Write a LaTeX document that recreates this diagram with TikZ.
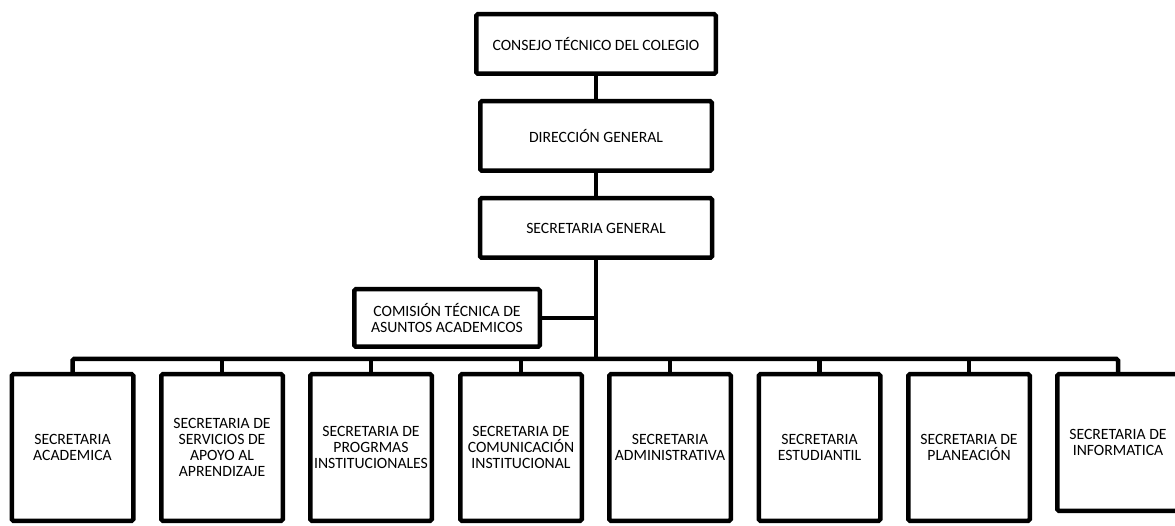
\documentclass[tikz,border=0pt]{standalone}
\usepackage{fontspec}
\setmainfont{Carlito}
\begin{document}
\begin{tikzpicture}[x=1pt,y=-1pt,
  box/.style={draw=black, line width=4.5pt, rounded corners=1.5pt, fill=white,
    align=center, inner sep=0pt, font=\fontsize{15.7}{15.7}\selectfont},
  topbox/.style={box, minimum width=231.5pt, minimum height=59.5pt},
  unit/.style={box, minimum width=121.5pt, minimum height=146.5pt},
  link/.style={draw=black, line width=4.5pt, rounded corners=1.5pt}]
\useasboundingbox (0,0) rectangle (1175,526);
\clip (0,0) rectangle (1175,526);

\node[topbox, minimum width=239.5pt] (cons) at (596,44) {CONSEJO TÉCNICO DEL COLEGIO};
\node[topbox, minimum height=69.5pt] (dir) at (596,136) {DIRECCIÓN GENERAL};
\node[topbox, minimum width=232pt] (sg) at (596,228) {SECRETARIA GENERAL};
\node[box, minimum width=185.5pt, minimum height=57.5pt] (com) at (447,318) {COMISIÓN TÉCNICA DE\\ASUNTOS ACADEMICOS};

\node[unit] (b1) at (72.5,447.5) {SECRETARIA\\ACADEMICA};
\node[unit] (b2) at (222,447.5) {SECRETARIA DE\\SERVICIOS DE\\APOYO AL\\APRENDIZAJE};
\node[unit] (b3) at (371,447.5) {SECRETARIA DE\\PROGRMAS\\INSTITUCIONALES};
\node[unit] (b4) at (521,447.5) {SECRETARIA DE\\COMUNICACIÓN\\INSTITUCIONAL};
\node[unit] (b5) at (670,447.5) {SECRETARIA\\ADMINISTRATIVA};
\node[unit] (b6) at (819.5,447.5) {SECRETARIA\\ESTUDIANTIL};
\node[unit] (b7) at (969,447.5) {SECRETARIA DE\\PLANEACIÓN};
\node[unit, minimum height=136.5pt] (b8) at (1118,442.5) {SECRETARIA DE\\INFORMATICA};

\coordinate (bus) at (596,359);

\draw[link] (cons) -- (dir);
\draw[link] (dir) -- (sg);
\draw[link] (sg.south) -- (bus);
\draw[link] (com.east) -- (com.east -| bus);
\draw[link] (b1.north) |- (bus) -| (b8.north);
\foreach \b in {b2,b3,b4,b5,b6,b7}{
  \draw[link] (\b.north) -- (\b.north |- bus);
}
\end{tikzpicture}
\end{document}
